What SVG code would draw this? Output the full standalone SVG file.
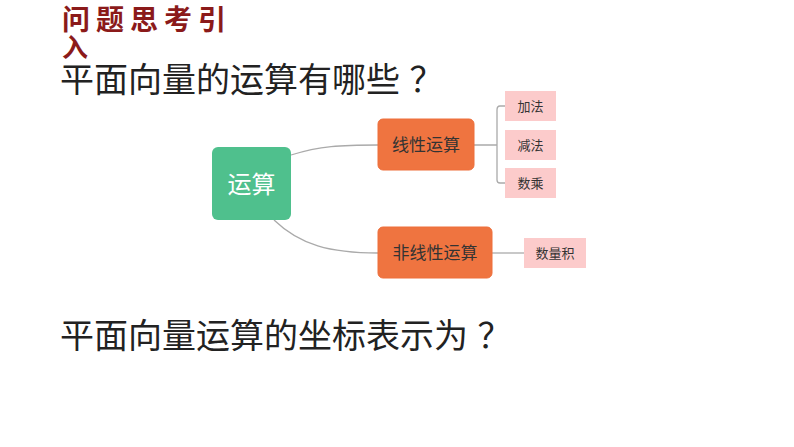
<svg xmlns="http://www.w3.org/2000/svg" width="794" height="447" viewBox="0 0 794 447">
<style>
.t{font-family:"Liberation Sans","Noto Sans CJK SC",sans-serif}
.o{fill:#ef7440;stroke:#ee6e3a}
.p{fill:#fccbcb}
.c{fill:none;stroke:#aaa;stroke-width:1.3}
</style>
<rect width="794" height="447" fill="#fff"/>
<text class="t" x="62" y="30" font-size="28" font-weight="bold" fill="#8b1a1a" letter-spacing="6">问题思考引</text>
<text class="t" x="62" y="57" font-size="26" font-weight="bold" fill="#8b1a1a">入</text>
<text class="t" x="60" y="92" font-size="34" fill="#222">平面向量的运算有哪些 ？</text>
<text class="t" x="60" y="348" font-size="34" fill="#222">平面向量运算的坐标表示为 ？</text>
<g id="connectors">
<path class="c" d="M291,155 C320,146 340,145 378,145"/>
<path class="c" d="M274,220 C300,245 330,253 378,253"/>
<path class="c" d="M474,145 H497 M505,106 H500 Q497,106 497,110 V180 Q497,183 500,183 H505"/>
<path class="c" d="M492,253 H524"/>
</g>
<g id="root"><rect x="212" y="147" width="79" height="73" rx="6" fill="#4fc08d"/><text class="t" x="251.5" y="193" font-size="24" fill="#fff" text-anchor="middle">运算</text></g>
<g id="linear"><rect class="o" x="378" y="119" width="96" height="51" rx="5"/><text class="t" x="426" y="151" font-size="17" fill="#333" text-anchor="middle">线性运算</text></g>
<g id="nonlinear"><rect class="o" x="378" y="227" width="114" height="51" rx="5"/><text class="t" x="435" y="259" font-size="17" fill="#333" text-anchor="middle">非线性运算</text></g>
<g id="add"><rect class="p" x="505" y="91" width="51" height="30"/><text class="t" x="530.5" y="111" font-size="13" fill="#333" text-anchor="middle">加法</text></g>
<g id="sub"><rect class="p" x="505" y="130" width="51" height="30"/><text class="t" x="530.5" y="150" font-size="13" fill="#333" text-anchor="middle">减法</text></g>
<g id="mul"><rect class="p" x="505" y="168" width="51" height="30"/><text class="t" x="530.5" y="188" font-size="13" fill="#333" text-anchor="middle">数乘</text></g>
<g id="dot"><rect class="p" x="524" y="238" width="62" height="30"/><text class="t" x="555" y="258" font-size="13" fill="#333" text-anchor="middle">数量积</text></g>
</svg>
